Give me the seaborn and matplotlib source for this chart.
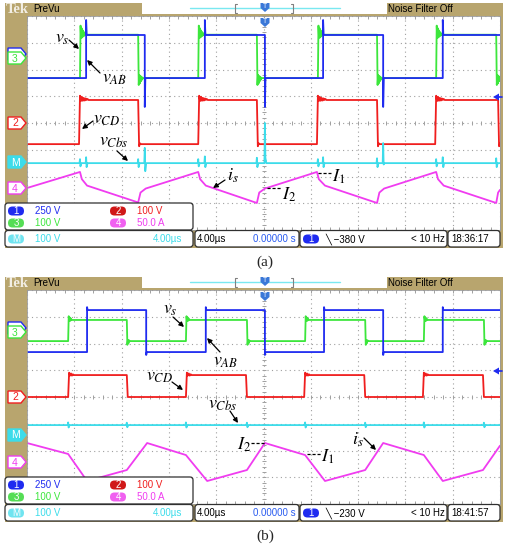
import numpy as np
import matplotlib
matplotlib.use("Agg")
import matplotlib.pyplot as plt
import seaborn as sns
from matplotlib.patches import Rectangle, Polygon, FancyBboxPatch
from matplotlib import font_manager as fm

# ---------------- data (screen divisions: 10 x 8, 4 us/div) ----------------
# panel (a)
A_GREEN_EDGES = [1.12, 2.35, 3.62, 4.86, 6.15, 7.40, 8.65, 9.92]
A_GREEN_LEVELS = [5.68, 7.30]
A_BLUE_EDGES = [1.25, 2.49, 3.76, 5.03, 6.26, 7.53, 8.79]
A_BLUE_LEVELS = [5.68, 7.29]
A_RED_EDGES = [1.10, 2.35, 3.62, 4.86, 6.13, 7.40, 8.63, 9.96]
A_RED_LEVELS = [3.21, 4.86]
A_CYAN_LEVEL = 2.50
A_CYAN_SPK_X = [1.12, 1.25, 2.35, 2.49, 3.62, 3.76, 4.86, 5.03, 6.15, 6.26, 7.40, 7.53, 8.65, 8.79, 9.92]
A_CYAN_SPK_TOP = [2.65, 2.72, 2.65, 3.07, 2.65, 2.75, 2.70, 4.00, 2.65, 2.72, 2.68, 3.25, 2.65, 2.72, 2.68]
A_CYAN_SPK_BOT = [2.38, 2.35, 2.35, 2.20, 2.38, 2.35, 2.35, 2.70, 2.38, 2.35, 2.35, 2.45, 2.38, 2.35, 2.35]
A_MAG_X = [0.00, 1.12, 1.16, 1.27, 2.35, 2.40, 2.51, 3.62, 3.66, 3.78, 4.86, 4.91, 5.03,
           6.13, 6.17, 6.30, 7.40, 7.45, 7.55, 8.65, 8.69, 8.81, 9.92, 9.96, 10.0]
A_MAG_Y = [1.57, 2.17, 1.90, 1.66, 1.03, 1.40, 1.55, 2.17, 1.90, 1.66, 1.01, 1.40, 1.55,
           2.17, 1.90, 1.66, 1.01, 1.40, 1.55, 2.17, 1.90, 1.66, 1.01, 1.40, 1.50]

# panel (b)
B_GREEN_EDGES = [0.87, 2.11, 3.36, 4.65, 5.88, 7.15, 8.39, 9.66]
B_GREEN_LEVELS = [6.09, 6.88]
B_BLUE_EDGES = [1.27, 2.52, 3.78, 5.03, 6.28, 7.53, 8.79]
B_BLUE_LEVELS = [5.68, 7.25]
B_RED_EDGES = [0.87, 2.11, 3.36, 4.63, 5.86, 7.13, 8.37, 9.64]
B_RED_LEVELS = [4.00, 4.82]
B_CYAN_LEVEL = 2.95
B_CYAN_SPK_X = [0.87, 2.11, 3.36, 4.65, 5.88, 7.15, 8.39, 9.66]
B_CYAN_SPK_TOP = [3.05, 3.04, 3.05, 3.04, 3.05, 3.04, 3.05, 3.04]
B_CYAN_SPK_BOT = [2.86, 2.87, 2.86, 2.87, 2.86, 2.87, 2.86, 2.87]
B_MAG_X = [0.00, 0.87, 1.27, 2.11, 2.54, 3.36, 3.81, 4.65, 5.03, 5.88, 6.30, 7.15, 7.53, 8.39, 8.79, 9.64, 10.0]
B_MAG_Y = [2.28, 1.87, 0.86, 1.27, 2.28, 1.83, 0.86, 1.27, 2.28, 1.83, 0.86, 1.27, 2.28, 1.83, 0.86, 1.27, 2.18]

# edge ringing (div)
A_GREEN_RING_HI = [0.34, -0.12, 0.24, -0.10, 0.16, -0.06, 0.10, -0.03, 0.05]
A_GREEN_RING_LO = [-0.26, 0.12, -0.20, 0.08, -0.12, 0.05, -0.06]
A_RED_RING_HI = [0.16, -0.04, 0.12, -0.03, 0.08, -0.02, 0.06, 0.0, 0.04]
A_RED_RING_LO = [-0.08, 0.03]
B_GREEN_RING_HI = [0.14, -0.04, 0.09, -0.03, 0.05]
B_GREEN_RING_LO = [-0.14, 0.04, -0.08, 0.03]
B_RED_RING_HI = [0.09, -0.02, 0.06, -0.02, 0.03]

# ---------------- style ----------------
sns.set_theme(style="white")
plt.rcParams["mathtext.fontset"] = "stix"


def has_font(name):
    try:
        fm.findfont(name, fallback_to_default=False)
        return True
    except Exception:
        return False


SANS = "Liberation Sans Narrow" if has_font("Liberation Sans Narrow") else "Liberation Sans"
SANS_SIZE = 8 if SANS == "Liberation Sans Narrow" else 7

C_BLUE = "#1f2bf0"
C_GREEN = "#3ce63c"
C_RED = "#f01e1e"
C_CYAN = "#3cdcea"
C_MAG = "#f03cf0"
TAN = "#b8a56e"

W, H = 507, 548
fig = plt.figure(figsize=(W / 100, H / 100), dpi=100)
fig.patch.set_facecolor("white")

ax_bg = fig.add_axes([0, 0, 1, 1], zorder=0)
ax_bg.set_xlim(0, W); ax_bg.set_ylim(H, 0); ax_bg.axis("off")
ax_o = fig.add_axes([0, 0, 1, 1], zorder=5)
ax_o.set_xlim(0, W); ax_o.set_ylim(H, 0); ax_o.axis("off")
ax_o.patch.set_alpha(0)


def square_wave(edges, levels, over_hi=None, over_lo=None, ring_hi=(), ring_lo=(), step=0.012):
    lo, hi = levels
    xs, ys = [0.0], [lo]
    high = False
    for t in edges:
        xs.append(t); ys.append(hi if high else lo)
        high = not high
        new = hi if high else lo
        sp = over_hi if high else over_lo
        if sp is not None:
            xs.append(t); ys.append(sp)
        ring = ring_hi if high else ring_lo
        for k, a in enumerate(ring):
            xs.append(t + step * (k + 1)); ys.append(new + a)
        xs.append(t + step * (len(ring) + 1)); ys.append(new)
    xs.append(10.0); ys.append(hi if high else lo)
    return xs, ys


def cyan_trace(level, sx, st, sb):
    xs, ys = [0.0], [level]
    for x, t, b in zip(sx, st, sb):
        xs += [x - 0.01, x, x + 0.01, x + 0.03]
        ys += [level, t, b, level]
    xs.append(10.0); ys.append(level)
    return xs, ys


def make_screen(top, bottom):
    ax = fig.add_axes([27 / W, 1 - bottom / H, 473 / W, (bottom - top) / H], zorder=2)
    ax.set_facecolor("white")
    ax.set_xlim(0, 10); ax.set_ylim(0, 8)
    ax.set_xticks(range(11)); ax.set_yticks(range(9))
    ax.set_xticklabels([]); ax.set_yticklabels([])
    ax.tick_params(length=0)
    ax.grid(True, color="#a0a0a0", linestyle=(0, (1, 3)), linewidth=0.8)
    for s in ax.spines.values():
        s.set_color("#9a9a9a"); s.set_linewidth(0.6)
    fine_x = np.arange(0, 10.001, 0.2)
    fine_y = np.arange(0, 8.001, 0.2)
    ax.plot(fine_x, np.full_like(fine_x, 4.0), ls="none", marker="|", ms=3, color="#a0a0a0", mew=0.7)
    ax.plot(np.full_like(fine_y, 5.0), fine_y, ls="none", marker="_", ms=3, color="#a0a0a0", mew=0.7)
    ax.plot(fine_x, np.full_like(fine_x, 0.04), ls="none", marker="|", ms=3, color="#a0a0a0", mew=0.7)
    ax.plot(fine_x, np.full_like(fine_x, 7.96), ls="none", marker="|", ms=3, color="#a0a0a0", mew=0.7)
    return ax


def draw_line(ax, xs, ys, color, lw=1.3):
    sns.lineplot(x=xs, y=ys, ax=ax, sort=False, estimator=None, color=color, linewidth=lw)


# ---------------- panel (a) traces ----------------
axA = make_screen(16, 230)
draw_line(axA, *square_wave(A_GREEN_EDGES, A_GREEN_LEVELS, ring_hi=A_GREEN_RING_HI, ring_lo=A_GREEN_RING_LO), C_GREEN)
draw_line(axA, *square_wave(A_BLUE_EDGES, A_BLUE_LEVELS, over_hi=7.85, over_lo=4.60), C_BLUE)
draw_line(axA, *square_wave(A_RED_EDGES, A_RED_LEVELS, ring_hi=A_RED_RING_HI, ring_lo=A_RED_RING_LO, step=0.02), C_RED)
draw_line(axA, *cyan_trace(A_CYAN_LEVEL, A_CYAN_SPK_X, A_CYAN_SPK_TOP, A_CYAN_SPK_BOT), C_CYAN)
draw_line(axA, A_MAG_X, A_MAG_Y, C_MAG)

# ---------------- panel (b) traces ----------------
axB = make_screen(290, 504)
draw_line(axB, *square_wave(B_GREEN_EDGES, B_GREEN_LEVELS, ring_hi=B_GREEN_RING_HI, ring_lo=B_GREEN_RING_LO), C_GREEN)
draw_line(axB, *square_wave(B_BLUE_EDGES, B_BLUE_LEVELS, over_hi=7.36, over_lo=5.57), C_BLUE)
draw_line(axB, *square_wave(B_RED_EDGES, B_RED_LEVELS, ring_hi=B_RED_RING_HI, step=0.02), C_RED)
draw_line(axB, *cyan_trace(B_CYAN_LEVEL, B_CYAN_SPK_X, B_CYAN_SPK_TOP, B_CYAN_SPK_BOT), C_CYAN)
draw_line(axB, B_MAG_X, B_MAG_Y, C_MAG)


# ---------------- scope chrome ----------------
def stext(x, y, s, color="black", ha="left", size=None, **kw):
    ax_o.text(x, y, s, color=color, ha=ha, va="center", family=[SANS, "DejaVu Sans"],
              fontsize=size or SANS_SIZE, zorder=12, **kw)


def pill(x, y, label, color, tcolor="white"):
    ax_o.add_patch(FancyBboxPatch((x, y - 4.5), 16, 9, boxstyle="round,pad=0,rounding_size=4.5",
                                  facecolor=color, edgecolor="none", zorder=11))
    stext(x + 8, y + 0.3, label, color=tcolor, ha="center")


def ch_marker(y, color, label=None, filled=False):
    pts = [(8, y - 6), (21, y - 6), (26, y), (21, y + 6), (8, y + 6)]
    ax_o.add_patch(Polygon(pts, closed=True, facecolor=color if filled else "white",
                           edgecolor=color, linewidth=1.0, zorder=11))
    if label:
        stext(15, y + 0.5, label, color="white" if filled else color, ha="center", size=SANS_SIZE + 0.5)


def trig_pin(x, y0):
    pts = [(x - 4.5, y0), (x + 4.5, y0), (x + 4.5, y0 + 5), (x, y0 + 9), (x - 4.5, y0 + 5)]
    ax_o.add_patch(Polygon(pts, closed=True, facecolor="#3a78d8", edgecolor="none", zorder=11))
    stext(x, y0 + 3.8, "T", color="white", ha="center", size=5)


def rbox(x0, y0, x1, y1):
    ax_o.add_patch(FancyBboxPatch((x0, y0), x1 - x0, y1 - y0, boxstyle="round,pad=0,rounding_size=3",
                                  facecolor="white", edgecolor="#303030", linewidth=0.9, zorder=10))


def chrome(dy, trig, clock, scr_bottom):
    # tan frame
    ax_bg.add_patch(Rectangle((5, 3 + dy), 498, 245, facecolor=TAN, edgecolor="none"))
    # top bar
    ax_o.add_patch(Rectangle((142, 3 + dy), 245, 10.5, facecolor="white", edgecolor="none", zorder=10))
    ax_o.plot([190, 340], [8 + dy, 8 + dy], color="#7ae8f0", lw=1.0, zorder=11)
    ax_o.plot([237, 235, 235, 237], [4 + dy, 4 + dy, 12.5 + dy, 12.5 + dy], color="#808080", lw=0.8, zorder=11)
    ax_o.plot([291, 293, 293, 291], [4 + dy, 4 + dy, 12.5 + dy, 12.5 + dy], color="#808080", lw=0.8, zorder=11)
    trig_pin(265, 3 + dy)
    trig_pin(265, 18 + dy)
    ax_o.text(6, 9.5 + dy, "Tek", color="#f2eee4", fontsize=10.5, fontweight="bold",
              family="Liberation Serif", va="center", ha="left", zorder=12)
    stext(33, 9 + dy, "PreVu", size=SANS_SIZE)
    stext(388, 9 + dy, "Noise Filter Off", size=SANS_SIZE)
    # trigger level arrow on the right
    ax_o.add_patch(Polygon([(493, 97 + dy), (499, 93.5 + dy), (499, 100.5 + dy)], closed=True,
                           facecolor=C_BLUE, edgecolor="none", zorder=11))
    ax_o.plot([497, 502], [97 + dy, 97 + dy], color=C_BLUE, lw=1.2, zorder=11)
    # info boxes
    rbox(5, scr_bottom - 27, 193, scr_bottom)
    rbox(5, scr_bottom + 0.5, 193, scr_bottom + 17)
    rbox(195, scr_bottom + 0.5, 299, scr_bottom + 17)
    rbox(300, scr_bottom + 0.5, 447, scr_bottom + 17)
    rbox(448, scr_bottom + 0.5, 500, scr_bottom + 17)
    r1, r2, r3 = scr_bottom - 19, scr_bottom - 7, scr_bottom + 9
    pill(8, r1, "1", C_BLUE); stext(35, r1, "250 V", C_BLUE)
    pill(110, r1, "2", "#d01818"); stext(137, r1, "100 V", C_RED)
    pill(8, r2, "3", "#55dd55"); stext(35, r2, "100 V", C_GREEN)
    pill(110, r2, "4", "#f060f0"); stext(137, r2, "50.0 A", C_MAG)
    pill(8, r3, "M", "#70e4f0"); stext(35, r3, "100 V", C_CYAN)
    stext(182, r3, "4.00µs", C_CYAN, ha="right")
    stext(197, r3, "4.00µs")
    stext(296, r3, "0.00000 s", "#2a5cf0", ha="right")
    pill(303, r3, "1", C_BLUE)
    stext(325, r3, "\u2572 " + trig)
    stext(445, r3, "< 10 Hz", ha="right")
    stext(451, r3, clock)


chrome(0, "\u2212380 V", "18:36:17", 230)
chrome(274, "\u2212230 V", "18:41:57", 504)

# channel markers (ch1 marker sits behind ch3)
ch_marker(54, C_BLUE); ch_marker(58, C_GREEN, "3")
ch_marker(123, C_RED, "2"); ch_marker(162, C_CYAN, "M", filled=True); ch_marker(188, C_MAG, "4")
ch_marker(328, C_BLUE); ch_marker(332, C_GREEN, "3")
ch_marker(397, C_RED, "2"); ch_marker(435, C_CYAN, "M", filled=True); ch_marker(462, C_MAG, "4")


# ---------------- annotations ----------------
def label(x, y, s, ha="center"):
    ax_o.text(x, y, s, fontsize=13, ha=ha, va="center", color="black", zorder=13)


def arrow(x0, y0, x1, y1):
    ax_o.annotate("", xy=(x1, y1), xytext=(x0, y0), zorder=13,
                  arrowprops=dict(arrowstyle="-|>", color="black", lw=0.9,
                                  mutation_scale=7, shrinkA=0, shrinkB=0))


def dashes(x0, x1, y):
    ax_o.plot([x0, x1], [y, y], color="black", lw=0.9, ls=(0, (2.5, 1.5)), zorder=13)


# (a)
label(62, 38, r"$v_s$"); arrow(69, 40, 79, 49)
label(115, 78, r"$v_{AB}$"); arrow(100, 73, 87, 60)
label(107, 119, r"$v_{CD}$"); arrow(93, 121, 82, 129)
label(114, 141, r"$v_{Cbs}$"); arrow(117, 151, 128, 161)
label(233, 176, r"$i_s$"); arrow(225, 180, 213, 188)
dashes(318, 331, 173); label(332, 177, r"$I_1$", ha="left")
dashes(267, 282, 188); label(282, 195, r"$I_2$", ha="left")
# (b)
label(170, 309, r"$v_s$"); arrow(173, 317, 184, 327)
label(226, 361, r"$v_{AB}$"); arrow(220, 352, 207, 338)
label(160, 376, r"$v_{CD}$"); arrow(172, 382, 183, 390)
label(223, 404, r"$v_{Cbs}$"); arrow(230, 411, 238, 423)
label(244, 445, r"$I_2$"); dashes(251, 265, 443)
dashes(307, 321, 454); label(321, 457, r"$I_1$", ha="left")
label(358, 440, r"$i_s$"); arrow(364, 438, 376, 450)

# captions
ax_o.text(265, 262, "(a)", fontsize=11, family="Liberation Serif", ha="center", va="center", zorder=13)
ax_o.text(265, 536, "(b)", fontsize=11, family="Liberation Serif", ha="center", va="center", zorder=13)

fig.savefig("out.png", dpi=100, facecolor="white")
